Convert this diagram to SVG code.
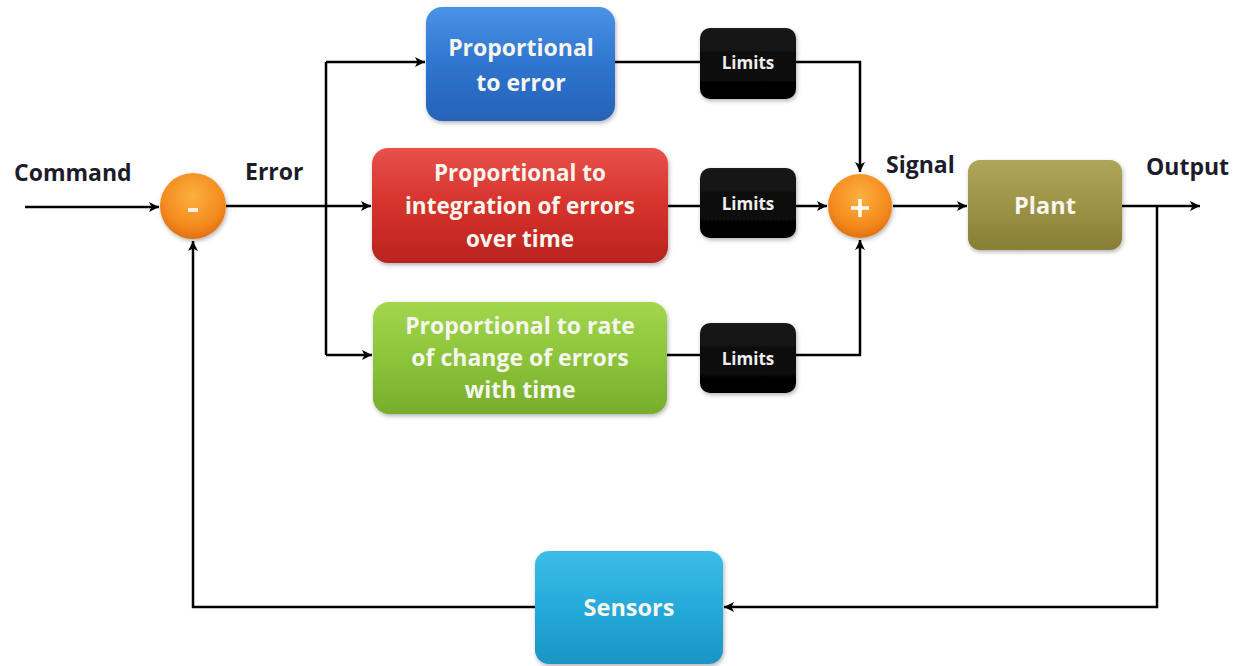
<svg xmlns="http://www.w3.org/2000/svg" width="1245" height="666" viewBox="0 0 1245 666">
<defs>
  <linearGradient id="gBlue" x1="0" y1="0" x2="0" y2="1">
    <stop offset="0" stop-color="#4a93e6"/><stop offset="0.5" stop-color="#2f74cf"/><stop offset="1" stop-color="#2563b8"/>
  </linearGradient>
  <linearGradient id="gRed" x1="0" y1="0" x2="0" y2="1">
    <stop offset="0" stop-color="#e8524a"/><stop offset="0.5" stop-color="#d5322b"/><stop offset="1" stop-color="#b92420"/>
  </linearGradient>
  <linearGradient id="gGreen" x1="0" y1="0" x2="0" y2="1">
    <stop offset="0" stop-color="#a2d64e"/><stop offset="0.5" stop-color="#8cc43a"/><stop offset="1" stop-color="#78ad2c"/>
  </linearGradient>
  <linearGradient id="gPlant" x1="0" y1="0" x2="0" y2="1">
    <stop offset="0" stop-color="#b0a65a"/><stop offset="0.5" stop-color="#9d9346"/><stop offset="1" stop-color="#877e36"/>
  </linearGradient>
  <linearGradient id="gSens" x1="0" y1="0" x2="0" y2="1">
    <stop offset="0" stop-color="#3cbde6"/><stop offset="0.5" stop-color="#25aadb"/><stop offset="1" stop-color="#1b95c4"/>
  </linearGradient>
  <linearGradient id="gBlack" x1="0" y1="0" x2="0" y2="1">
    <stop offset="0" stop-color="#1a1a1a"/><stop offset="1" stop-color="#000"/>
  </linearGradient>
  <radialGradient id="gOrange" cx="0.5" cy="0.35" r="0.65">
    <stop offset="0" stop-color="#fbb040"/><stop offset="0.7" stop-color="#f58b1f"/><stop offset="1" stop-color="#e0700f"/>
  </radialGradient>
  <marker id="arr" viewBox="0 0 10 10" refX="10" refY="5" markerWidth="10" markerHeight="10" markerUnits="userSpaceOnUse" orient="auto">
    <path d="M0,0 L10,5 L0,10 L2.5,5 Z" fill="#000"/>
  </marker>
  <filter id="sh" x="-10%" y="-10%" width="125%" height="130%">
    <feDropShadow dx="1" dy="2" stdDeviation="2" flood-color="#000" flood-opacity="0.3"/>
  </filter>
</defs>
<style>
  .ln{fill:none;stroke:#000;stroke-width:2.5}
  .bt{font-family:"Open Sans","Liberation Sans",sans-serif;font-weight:bold;fill:#f6f6ee;text-anchor:middle}
  .lab{font-family:"Open Sans","Liberation Sans",sans-serif;font-weight:bold;font-size:23px;fill:#1c1c2a}
  .lim{font-family:"Open Sans","Liberation Sans",sans-serif;font-weight:bold;font-size:17px;fill:#eee;text-anchor:middle}
</style>
<rect width="1245" height="666" fill="#fff"/>

<g id="connectors">
  <path class="ln" d="M25,207 H159" marker-end="url(#arr)"/>
  <path class="ln" d="M226,206 H371" marker-end="url(#arr)"/>
  <path class="ln" d="M326,62 V355"/>
  <path class="ln" d="M326,62 H425" marker-end="url(#arr)"/>
  <path class="ln" d="M326,355 H372" marker-end="url(#arr)"/>
  <path class="ln" d="M615,62 H700"/>
  <path class="ln" d="M796,62 H860 V172" marker-end="url(#arr)"/>
  <path class="ln" d="M668,206 H700"/>
  <path class="ln" d="M796,206 H827" marker-end="url(#arr)"/>
  <path class="ln" d="M667,355 H700"/>
  <path class="ln" d="M796,355 H860 V240" marker-end="url(#arr)"/>
  <path class="ln" d="M893,206 H967" marker-end="url(#arr)"/>
  <path class="ln" d="M1122,206 H1200" marker-end="url(#arr)"/>
  <path class="ln" d="M1157,206 V607 H724" marker-end="url(#arr)"/>
  <path class="ln" d="M535,607 H193 V241" marker-end="url(#arr)"/>
</g>

<g id="labels">
  <text class="lab" x="14" y="181">Command</text>
  <text class="lab" x="245" y="180">Error</text>
  <text class="lab" x="886" y="173">Signal</text>
  <text class="lab" x="1146" y="175">Output</text>
</g>

<g id="sum-minus">
  <circle cx="193" cy="206" r="33" fill="url(#gOrange)" filter="url(#sh)"/>
  <rect x="188" y="208" width="10" height="4" fill="#fff" opacity="0.85"/>
</g>

<g id="sum-plus">
  <circle cx="860" cy="206" r="32" fill="url(#gOrange)" filter="url(#sh)"/>
  <path d="M860,199 V217 M851,208 H869" stroke="#fff" stroke-width="3.5"/>
</g>

<g id="proportional">
  <rect x="426" y="7" width="189" height="114" rx="16" fill="url(#gBlue)" filter="url(#sh)"/>
  <text class="bt" x="521" y="56" font-size="23">Proportional</text>
  <text class="bt" x="521" y="91" font-size="23">to error</text>
</g>

<g id="integral">
  <rect x="372" y="148" width="296" height="115" rx="16" fill="url(#gRed)" filter="url(#sh)"/>
  <text class="bt" x="520" y="181" font-size="22.5">Proportional to</text>
  <text class="bt" x="520" y="214" font-size="22.5">integration of errors</text>
  <text class="bt" x="520" y="247" font-size="22.5">over time</text>
</g>

<g id="derivative">
  <rect x="373" y="302" width="294" height="112" rx="16" fill="url(#gGreen)" filter="url(#sh)"/>
  <text class="bt" x="520" y="334" font-size="23">Proportional to rate</text>
  <text class="bt" x="520" y="366" font-size="23">of change of errors</text>
  <text class="bt" x="520" y="398" font-size="23">with time</text>
</g>

<g id="limits-top">
  <rect x="700" y="28" width="96" height="71" rx="10" fill="url(#gBlack)" filter="url(#sh)"/>
  <text class="lim" x="748" y="69">Limits</text>
</g>
<g id="limits-mid">
  <rect x="700" y="168" width="96" height="70" rx="10" fill="url(#gBlack)" filter="url(#sh)"/>
  <text class="lim" x="748" y="210">Limits</text>
</g>
<g id="limits-bot">
  <rect x="700" y="323" width="96" height="70" rx="10" fill="url(#gBlack)" filter="url(#sh)"/>
  <text class="lim" x="748" y="365">Limits</text>
</g>

<g id="plant">
  <rect x="968" y="160" width="154" height="90" rx="12" fill="url(#gPlant)" filter="url(#sh)"/>
  <text class="bt" x="1045" y="214" font-size="23.5">Plant</text>
</g>

<g id="sensors">
  <rect x="535" y="551" width="188" height="113" rx="14" fill="url(#gSens)" filter="url(#sh)"/>
  <text class="bt" x="629" y="616" font-size="23.5">Sensors</text>
</g>
</svg>
